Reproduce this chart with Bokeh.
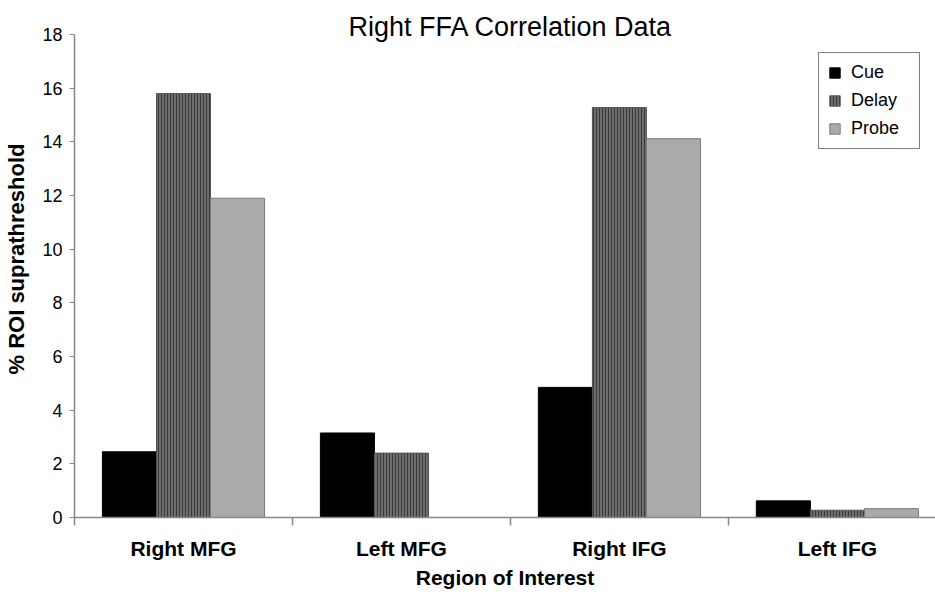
from bokeh.plotting import figure
from bokeh.models import Range1d, FixedTicker, Legend, LegendItem, ColumnDataSource
from bokeh.transform import dodge
from bokeh.core.properties import value
from bokeh.embed import file_html
from bokeh.resources import INLINE

regions = ["Right MFG", "Left MFG", "Right IFG", "Left IFG"]
cue = [2.45, 3.15, 4.85, 0.62]
delay = [15.8, 2.4, 15.28, 0.27]
probe = [11.9, 0.0, 14.12, 0.33]
y_ticks = [0, 2, 4, 6, 8, 10, 12, 14, 16, 18]
title_text = "Right FFA Correlation Data"

FONT = "Liberation Sans"
centers = [i + 0.5 for i in range(len(regions))]
src = ColumnDataSource(dict(x=centers, cue=cue, delay=delay, probe=probe))

p = figure(width=935, height=594, output_backend="svg", toolbar_location=None,
           x_range=Range1d(0, 3.95), y_range=Range1d(0, 19.27),
           min_border_left=74, min_border_right=0, min_border_top=0, min_border_bottom=77)
p.outline_line_color = None
p.xgrid.grid_line_color = None
p.ygrid.grid_line_color = None

bw = 0.248
r_cue = p.vbar(x=dodge("x", -bw, range=p.x_range), top="cue", width=bw, source=src,
               fill_color="black", line_color="black", line_width=1)
r_delay = p.vbar(x=dodge("x", 0, range=p.x_range), top="delay", width=bw, source=src,
                 fill_color="#707070", line_color="#555555", line_width=1,
                 hatch_pattern="vertical_line", hatch_color="#3a3a3a",
                 hatch_scale=3, hatch_weight=1.2)
r_probe = p.vbar(x=dodge("x", bw, range=p.x_range), top="probe", width=bw, source=src,
                 fill_color="#aaaaaa", line_color="#7a7a7a", line_width=1)

# y axis
p.yaxis.ticker = FixedTicker(ticks=y_ticks)
p.yaxis.bounds = (0, 18)
p.yaxis.axis_line_color = "#888888"
p.yaxis.axis_line_width = 1.5
p.yaxis.major_tick_line_color = "#888888"
p.yaxis.major_tick_out = 5
p.yaxis.major_tick_in = 0
p.yaxis.minor_tick_line_color = None
p.yaxis.major_label_text_font = FONT
p.yaxis.major_label_text_font_size = "18px"
p.yaxis.major_label_text_color = "black"
p.yaxis.major_label_standoff = 7
p.yaxis.axis_label = "% ROI suprathreshold"
p.yaxis.axis_label_text_font = FONT
p.yaxis.axis_label_text_font_style = "bold"
p.yaxis.axis_label_text_font_size = "22px"
p.yaxis.axis_label_text_color = "black"
p.yaxis.axis_label_standoff = 10

# x axis
p.xaxis.ticker = FixedTicker(ticks=centers, minor_ticks=list(range(len(regions) + 1)))
p.xaxis.major_label_overrides = {c: r for c, r in zip(centers, regions)}
p.xaxis.axis_line_color = "#888888"
p.xaxis.axis_line_width = 1.5
p.xaxis.major_tick_line_color = None
p.xaxis.major_tick_out = 0
p.xaxis.major_tick_in = 0
p.xaxis.minor_tick_line_color = "#888888"
p.xaxis.minor_tick_line_width = 1.5
p.xaxis.minor_tick_out = 8
p.xaxis.minor_tick_in = 0
p.xaxis.major_label_text_font = FONT
p.xaxis.major_label_text_font_style = "bold"
p.xaxis.major_label_text_font_size = "21px"
p.xaxis.major_label_text_color = "black"
p.xaxis.major_label_standoff = 11
p.xaxis.axis_label = "Region of Interest"
p.xaxis.axis_label_text_font = FONT
p.xaxis.axis_label_text_font_style = "bold"
p.xaxis.axis_label_text_font_size = "21px"
p.xaxis.axis_label_text_color = "black"
p.xaxis.axis_label_standoff = 3

# title
p.text(x=[2.0], y=[18.28], text=[title_text], text_font=value(FONT),
       text_font_size=value("27px"), text_align="center", text_baseline="alphabetic",
       text_color="black")

legend = Legend(items=[LegendItem(label="Cue", renderers=[r_cue]),
                       LegendItem(label="Delay", renderers=[r_delay]),
                       LegendItem(label="Probe", renderers=[r_probe])],
                location=(744, 368))
legend.border_line_color = "black"
legend.border_line_width = 1
legend.background_fill_alpha = 1
legend.label_text_font = FONT
legend.label_text_font_size = "18px"
legend.label_text_color = "black"
legend.glyph_width = 13
legend.glyph_height = 13
legend.label_standoff = 10
legend.label_width = 59
legend.label_height = 20
legend.spacing = 7
legend.padding = 9
legend.margin = 0
p.add_layout(legend)

open("out.html", "w").write(file_html(p, INLINE))
